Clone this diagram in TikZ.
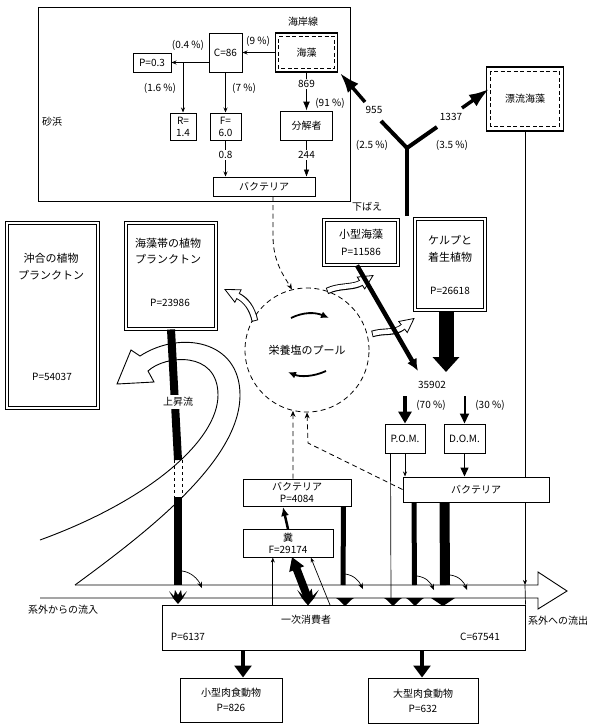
\documentclass[tikz,border=0pt]{standalone}
\usepackage{fontspec}
\setmainfont{Noto Sans CJK JP}
\usetikzlibrary{arrows.meta,calc}
\newcommand\mysplash[3]{\fill[shift={(#1,#2)}, scale=#3] (-9,-6) -- (-4,-1) -- (-3,-7) -- (0,-2) -- (3,-7) -- (4,-1) -- (9,-6) -- (5,1) -- (0,7) -- (-5,1) -- cycle;}
\newcommand\mytri[2]{\fill (#1-#2-3,598) -- (#1+#2+3,598) -- (#1+#2,600) -- (#1,606) -- (#1-#2,600) -- cycle;}
\newcommand\myhollow[3]{%
  \draw[line width=6.6pt] #1;
  \filldraw[fill=white, line width=0.8pt] ($(#2)!7pt!90:(#3)$) -- (#3) -- ($(#2)!7pt!-90:(#3)$) -- cycle;
  \draw[white, line width=4.6pt, shorten >=-1.5pt, shorten <=0.9pt] #1;
}
\begin{document}
\begin{tikzpicture}[x=1pt,y=-1pt,
  every node/.style={font=\fontsize{10}{12}\selectfont, inner sep=0pt, align=center},
  big/.style={font=\fontsize{11}{13}\selectfont},
  bx/.style={draw, line width=1pt, fill=white},
  dbx/.style={draw, line width=0.9pt, double, double distance=2.4pt, fill=white},
  dashin/.style={line width=0.9pt, dash pattern=on 4pt off 2.5pt},
  ln/.style={line width=0.7pt},
  stip/.style={-{Stealth[length=5pt,width=4pt]}},
  lab/.style={fill=white, inner sep=1pt},
  pooldash/.style={dash pattern=on 5pt off 3.5pt, line width=0.8pt},
  curl/.style={line width=0.7pt, -{Stealth[length=6pt,width=5pt]}}
]
\useasboundingbox (0,0) rectangle (600,728);

% ---------- sand beach ----------
\node[bx, minimum width=312pt, minimum height=194pt] (sand) at (194,104) {};
\node (sandlbl) at (52,122) {砂浜};
\node (coast) at (303,22) {海岸線};
\node[draw, line width=1.3pt, fill=white, minimum width=62pt, minimum height=39pt] (kaisou) at (306.5,52.5) {};
\draw[dashin] ($(kaisou.south west)+(4,-4)$) rectangle ($(kaisou.north east)+(-4,4)$);
\node (kaisoutxt) at (kaisou) {海藻};
\node[bx, minimum width=33pt, minimum height=39pt] (c86) at (225.5,52.5) {C=86};
\node[bx, minimum width=38pt, minimum height=19pt] (p03) at (152,62.5) {P=0.3};
\node[bx, minimum width=26pt, minimum height=27pt] (r14) at (183,126.5) {R=\\1.4};
\node[bx, minimum width=31pt, minimum height=27pt] (f60) at (225.5,126.5) {F=\\6.0};
\node[bx, minimum width=52pt, minimum height=29pt] (bunkai) at (306.5,125.5) {分解者};
\node[bx, minimum width=102pt, minimum height=19pt] (bact1) at (264,186.5) {バクテリア};

\draw[ln, stip] (kaisou) -- (c86);
\node (l9) at (258,41) {(9 \%)};
\coordinate (cp) at (c86.west |- p03.east);
\draw[ln, stip] (cp) -- (p03.east);
\coordinate (br) at (r14.north |- p03.east);
\draw[ln, stip] (br) -- (r14.north);
\draw[ln, stip] (c86.south) -- (f60.north);
\node (l04) at (188,45) {(0.4 \%)};
\node (l16) at (160,88) {(1.6 \%)};
\node (l7) at (244,88) {(7 \%)};
\draw[line width=1pt, -{Latex[length=9pt,width=7pt]}] (kaisou.south) -- (bunkai.north);
\node[lab] (l869) at (306.5,84) {869};
\node (l91) at (330,103) {(91 \%)};
\draw[ln, stip] (f60.south) -- (bact1.north -| f60.south);
\node[lab] (l08) at (225.5,155) {0.8};
\draw[ln, -{Triangle[length=7pt,width=5pt]}] (bunkai.south) -- (bact1.north -| bunkai.south);
\node[lab] (l244) at (306.5,155) {244};

% ---------- drift algae ----------
\node[draw, line width=1.3pt, fill=white, minimum width=77pt, minimum height=64pt] (hyoryu) at (525,99) {漂流海藻};
\draw[dashin] ($(hyoryu.south west)+(5,-5)$) rectangle ($(hyoryu.north east)+(-5,5)$);
\coordinate (hyend) at (525,585);
\draw[ln, -{Stealth[length=5pt,width=4pt]}] (hyoryu.south) -- (hyend);

% ---------- Y ----------
\coordinate (yc) at (407,148);
\coordinate (yl) at (381,121);
\coordinate (yr) at (437,127);
\coordinate (ys) at (407,216);
\draw[line width=4.5pt] (ys) -- (yc);
\draw[line width=4pt, line join=round] (yl) -- (yc) -- (yr);
\coordinate (a955s) at (365,102);
\coordinate (a955t) at (340,73);
\draw[line width=3.5pt, -{Latex[length=20pt,width=14pt]}] (a955s) -- (a955t);
\coordinate (a1337s) at (462,108);
\coordinate (a1337t) at (489,89);
\draw[line width=3.5pt, -{Latex[length=20pt,width=14pt]}] (a1337s) -- (a1337t);
\node (l955) at (374,110) {955};
\node (l1337) at (451,117) {1337};
\node (l25) at (372,145) {(2.5 \%)};
\node (l35) at (452,145) {(3.5 \%)};

% ---------- plant boxes ----------
\node[dbx, minimum width=91pt, minimum height=185pt] (oki) at (52.5,315.5) {};
\node[big] (okit1) at (51,258) {沖合の植物};
\node[big] (okit2) at (51,275) {プランクトン};
\node (okip) at (52,377) {P=54037};

\node[dbx, minimum width=90pt, minimum height=106pt] (kpl) at (171,276) {};
\node[big] (kplt1) at (168,243) {海藻帯の植物};
\node[big] (kplt2) at (168,259) {プランクトン};
\node (kplp) at (170,303) {P=23986};

\node (shita) at (367,207) {下ばえ};
\node[dbx, minimum width=74pt, minimum height=45pt] (sho) at (361,242.5) {};
\node[big] (shot) at (361,234) {小型海藻};
\node (shop) at (361,252) {P=11586};

\node[dbx, minimum width=70pt, minimum height=91pt] (kelp) at (450,264.5) {};
\node[big] (kelpt1) at (450,240) {ケルプと};
\node[big] (kelpt2) at (450,257) {着生植物};
\node (kelpp) at (450,291) {P=26618};

% ---------- nutrient pool ----------
\node[circle, draw, pooldash, minimum size=124pt, font=\fontsize{11}{13}\selectfont] (pool) at (307,350) {栄養塩のプール};
\draw[line width=1.8pt, -{Latex[length=8pt,width=7pt]}] (291,318) .. controls (303,312) and (315,312) .. (329,318);
\draw[line width=1.8pt, -{Latex[length=8pt,width=7pt]}] (326,371) .. controls (313,377) and (300,377) .. (288,372);

\myhollow{(255,321) .. controls (252,308) and (246,300) .. (238,296)}{238,296}{225,289.5}
\myhollow{(327,291) .. controls (340,285) and (352,288) .. (361,283)}{361,283}{373,275.5}
\myhollow{(372,334) .. controls (385,330) and (394,334) .. (403,327)}{403,327}{414,318.5}

\draw[line width=4.5pt, -{Latex[length=12pt,width=11pt]}] ($(sho.south)+(-4,0)$) -- (418,371);
\draw[line width=15pt, -{Triangle[length=15pt,width=26pt]}] ($(kelp.south)+(-4,1)$) -- (446,372);
\node (n35902) at (432,385) {35902};

% ---------- flow arrow, upwelling ----------
\draw[line width=0.9pt] (75,585) -- (538,585) -- (538,572) -- (567,591) -- (538,609) -- (538,598) -- (40,598);
\filldraw[fill=white, line width=0.9pt] (75,585) .. controls (150,530) and (240,460) .. (240,395) .. controls (240,340) and (180,330) .. (140,356) -- (131,350) -- (117,384) -- (154,382) -- (148,371) .. controls (165,355) and (218,350) .. (218,395) .. controls (218,440) and (150,500) .. (40,540);
\draw[line width=8pt] (kpl.south) -- (178,460);
\draw[line width=8pt] (178,497) -- (178,585);
\draw[ln, dashed] (174,460) -- (174,497);
\draw[ln, dashed] (182,460) -- (182,497);
\node[lab, inner sep=2pt] (joshou) at (178,402) {上昇流};
\draw[curl] (182,571) .. controls (191,572) and (198,579) .. (202,588);
\node (inflow) at (63,610) {系外からの流入};
\node[anchor=west] (outflow) at (528,621) {系外への流出};

% ---------- lower boxes ----------
\node[bx, minimum width=40pt, minimum height=29pt] (pom) at (405,438.5) {P.O.M.};
\node[bx, minimum width=41pt, minimum height=29pt] (dom) at (464.5,438.5) {D.O.M.};
\coordinate (p70) at (405,396);
\coordinate (p30) at (464.5,396);
\draw[line width=3.5pt, -{Triangle[length=12pt,width=13pt]}] (p70) -- (pom.north);
\draw[line width=2pt, -{Triangle[length=10pt,width=9pt]}] (p30) -- (dom.north);
\node (l70) at (431,405) {(70 \%)};
\node (l30) at (490,405) {(30 \%)};

\node[bx, minimum width=146pt, minimum height=25pt] (bact3) at (476,489.5) {バクテリア};
\draw[ln, stip] (pom.south) -- (pom.south |- bact3.north);
\draw[line width=1.4pt, -{Triangle[length=9pt,width=8pt]}] (dom.south) -- (dom.south |- bact3.north);
\draw[ln] ($(pom.south west)+(6,0)$) -- (391,601);

\node[bx, minimum width=108pt, minimum height=27pt] (bact2) at (297,492.5) {バクテリア\\P=4084};
\node[bx, minimum width=90pt, minimum height=28pt] (fun) at (288,543) {糞\\F=29174};
\node[bx, minimum width=363pt, minimum height=45pt] (cons) at (343.5,627.5) {};
\node (const) at (306,620) {一次消費者};
\node (consp) at (188,637) {P=6137};
\node (consc) at (480,637) {C=67541};
\draw[ln] (hyend) -- (cons.north east);

\node[bx, minimum width=102pt, minimum height=44pt] (small) at (231,700) {小型肉食動物\\[3pt]P=826};
\node[bx, minimum width=110pt, minimum height=45pt] (large) at (423,700.5) {大型肉食動物\\[3pt]P=632};
\coordinate (sa) at (243,651);
\coordinate (la) at (422,651);
\draw[line width=4pt, -{Triangle[length=12pt,width=17pt]}] (sa) -- (sa |- small.north);
\draw[line width=4pt, -{Triangle[length=12pt,width=17pt]}] (la) -- (la |- large.north);

% ---------- lower connectors ----------
\draw[line width=2.5pt, -{Latex[length=9pt,width=8pt]}] (288,529) -- (283,507);
\draw[pooldash, -{Stealth[length=6pt,width=5pt]}] ($(bact2.north)+(-4,0)$) -- (pool.257);
\draw[pooldash, -{Stealth[length=6pt,width=5pt]}] (bact3.west) -- (308,443) -- (pool.270);
\draw[pooldash, -{Stealth[length=6pt,width=5pt]}] ($(bact1.south)+(9,0)$) -- (273,236) .. controls (273,262) and (284,276) .. (pool.104);

\draw[line width=5pt] ($(bact2.south east)+(-8,0)$) -- (343,585);
\draw[curl] (345,574) .. controls (354,575) and (359,581) .. (363,589);
\draw[line width=5pt] ($(bact3.south west)+(11.5,0)$) -- (414.5,585);
\draw[curl] (417,576) .. controls (426,577) and (431,583) .. (434,590);
\draw[line width=10pt] ($(bact3.south west)+(42,0)$) -- (445,585);
\draw[curl] (450,575) .. controls (459,576) and (464,582) .. (467,590);

\coordinate (fa) at ($(fun.south west)!0.333!(fun.south east)$);
\draw[ln, stip] (fa |- cons.north) -- (fa);
\coordinate (fb) at ($(fun.south west)!0.75!(fun.south east)$);
\coordinate (fbs) at (330,605);
\draw[ln, stip] (fbs) -- (fb);
\coordinate (wb) at (309,601);
\coordinate (wt) at (292,557);
\draw[line width=8pt, -{Triangle[length=13pt,width=15pt]}] (wb) -- (wt);

% ---------- arrowheads into primary consumers ----------
\mysplash{178}{597}{1}
\mysplash{308}{597}{1.2}
\mytri{345}{6}
\mytri{393}{6}
\mytri{415}{6}
\mytri{443}{9}
\end{tikzpicture}
\end{document}
